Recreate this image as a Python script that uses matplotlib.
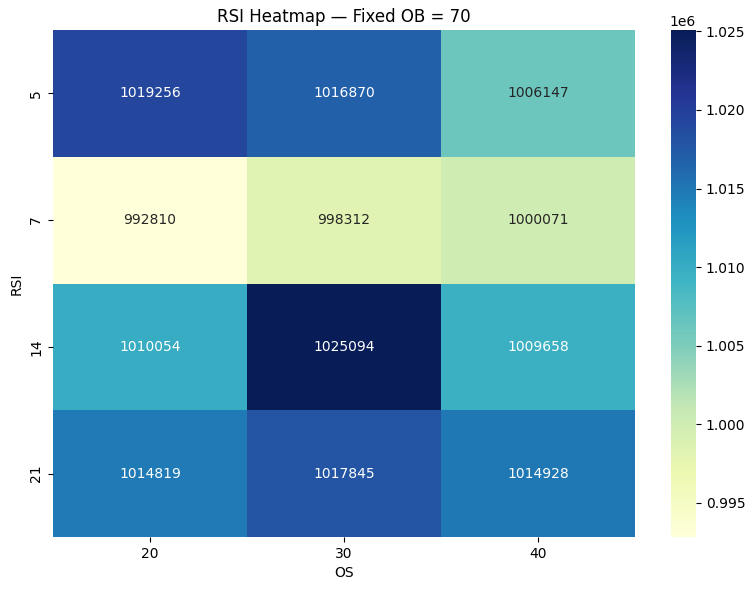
import matplotlib
matplotlib.use('Agg')
import matplotlib.pyplot as plt
import numpy as np
import pandas as pd
import seaborn as sns

# RSI period vs oversold level, fixed overbought = 70
rsi_periods = [5, 7, 14, 21]
os_levels = [20, 30, 40]
final_values = [
    [1019256, 1016870, 1006147],
    [992810, 998312, 1000071],
    [1010054, 1025094, 1009658],
    [1014819, 1017845, 1014928],
]

df = pd.DataFrame(final_values, index=rsi_periods, columns=os_levels)
df.index.name = 'RSI'
df.columns.name = 'OS'

W, H = 755, 590
fig = plt.figure(figsize=(W / 100, H / 100), dpi=100)
# placed by hand to match the reference layout
ax = fig.add_axes([53 / W, (H - 537) / H, (635 - 53) / W, (537 - 30) / H])
cax = fig.add_axes([671 / W, (H - 537) / H, 25 / W, (537 - 30) / H])
sns.heatmap(df, annot=True, fmt='d', cmap='YlGnBu', ax=ax, cbar_ax=cax)
ax.set_title('RSI Heatmap — Fixed OB = 70')

plt.savefig('out.png', dpi=100)
